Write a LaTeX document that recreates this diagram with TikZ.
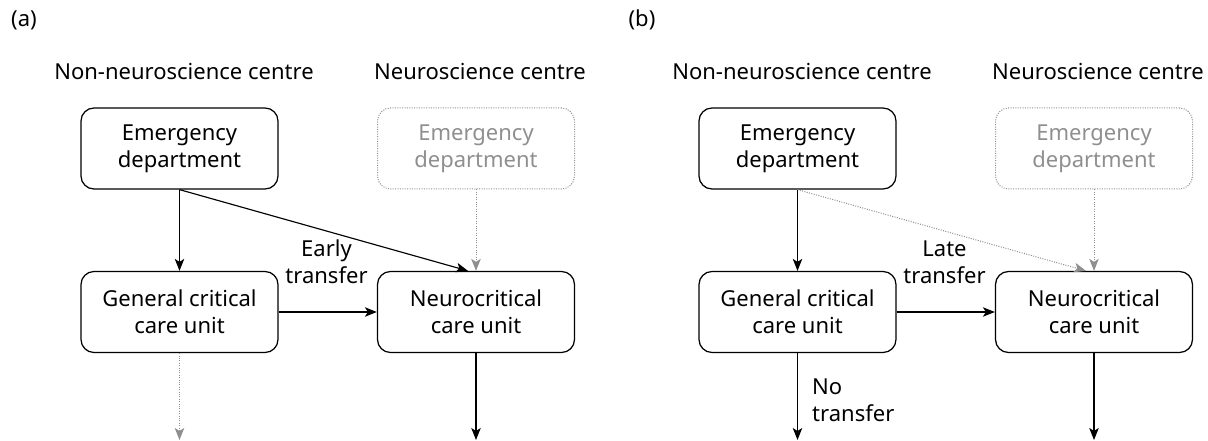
\documentclass[tikz,border=0pt]{standalone}
\usepackage{fontspec}
\setmainfont{Noto Sans}
\usetikzlibrary{arrows.meta,calc}
\definecolor{ghostgray}{HTML}{8F8F8F}
\begin{document}
\begin{tikzpicture}[x=1pt,y=-1pt,
  font=\fontsize{22}{27}\selectfont,
  unitbox/.style={draw, line width=1.25pt, rounded corners=13pt, minimum width=197pt,
    minimum height=81pt, align=center, inner sep=0pt},
  ghostbox/.style={unitbox, draw=ghostgray, text=ghostgray, line width=1pt,
    dash pattern=on 1pt off 1.4pt},
  flow/.style={line width=1.15pt, -{Stealth[length=12pt,width=9.5pt,inset=3pt]}},
  ghostflow/.style={line width=1pt, draw=ghostgray, dash pattern=on 1pt off 1.4pt,
    -{Stealth[length=12pt,width=9.5pt,inset=3pt,color=ghostgray]}},
  lbl/.style={inner sep=0pt, align=center},
  head/.style={anchor=base, inner sep=0pt}]
\useasboundingbox (0,0) rectangle (1208,441);

% ---------- panel (a) ----------
\node[head] (tagA) at (24,27) {(a)};
\node[head] (hnA) at (184,80) {Non-neuroscience centre};
\node[head] (hyA) at (480,80) {Neuroscience centre};
\node[unitbox] (edA) at (179.5,148.5) {Emergency\\department};
\node[ghostbox] (ghA) at (476,148.5) {Emergency\\department};
\node[unitbox] (gcA) at (179.5,312) {General critical\\care unit};
\node[unitbox] (ncA) at (476,312) {Neurocritical\\care unit};
\coordinate (outgA) at (179.5,440);
\coordinate (outnA) at (476,440);
\draw[flow] (edA) -- (gcA);
\draw[flow] (edA.south) -- ($(ncA.north)+(-8,0)$);
\draw[ghostflow] (ghA) -- (ncA);
\draw[flow] (gcA) -- (ncA);
\draw[ghostflow] (gcA.south) -- (outgA);
\draw[flow] (ncA.south) -- (outnA);
\node[lbl] (early) at (326.5,262) {Early\\transfer};

% ---------- panel (b) ----------
\node[head] (tagB) at (642,27) {(b)};
\node[head] (hnB) at (802,80) {Non-neuroscience centre};
\node[head] (hyB) at (1098,80) {Neuroscience centre};
\node[unitbox] (edB) at (797.5,148.5) {Emergency\\department};
\node[ghostbox] (ghB) at (1094,148.5) {Emergency\\department};
\node[unitbox] (gcB) at (797.5,312) {General critical\\care unit};
\node[unitbox] (ncB) at (1094,312) {Neurocritical\\care unit};
\coordinate (outgB) at (797.5,440);
\coordinate (outnB) at (1094,440);
\draw[flow] (edB) -- (gcB);
\draw[ghostflow] (edB.south) -- ($(ncB.north)+(-8,0)$);
\draw[ghostflow] (ghB) -- (ncB);
\draw[flow] (gcB) -- (ncB);
\draw[flow] (gcB.south) -- (outgB);
\draw[flow] (ncB.south) -- (outnB);
\node[lbl] (late) at (944.5,262) {Late\\transfer};
\node[lbl, align=left, anchor=west] (notr) at (812,400.7) {No\\transfer};
\end{tikzpicture}
\end{document}
